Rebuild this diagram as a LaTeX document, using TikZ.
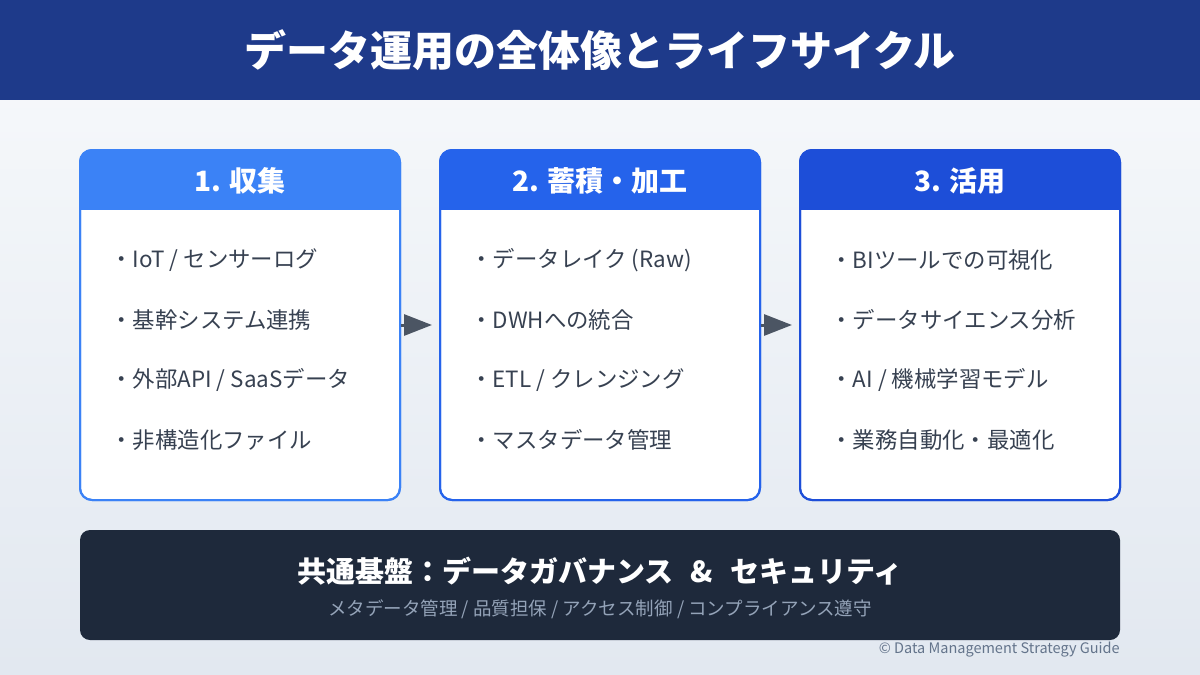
\documentclass[tikz,border=0pt]{standalone}
\usepackage{fontspec}
\setmainfont{Noto Sans CJK JP}
\usetikzlibrary{arrows.meta}
\definecolor{hdr}{HTML}{1E3A8A}
\definecolor{bgtop}{HTML}{F8FAFC}
\definecolor{bgbot}{HTML}{E2E8F0}
\definecolor{cA}{HTML}{3B82F6}
\definecolor{cB}{HTML}{2563EB}
\definecolor{cC}{HTML}{1D4ED8}
\definecolor{itemc}{HTML}{374151}
\definecolor{arrc}{HTML}{4B5563}
\definecolor{barc}{HTML}{1E293B}
\definecolor{subc}{HTML}{94A3B8}
\definecolor{footc}{HTML}{64748B}
\tikzset{
  stagebox/.style={draw=#1, fill=white, line width=1pt, rounded corners=6pt,
    minimum width=160pt, minimum height=175pt, inner sep=0pt},
  stagetitle/.style={text=white, font=\fontsize{14}{16}\selectfont\bfseries, inner sep=0pt},
  item/.style={anchor=west, text=itemc, font=\fontsize{11.2}{13}\selectfont, inner sep=0pt},
  flow/.style={draw=arrc, line width=1.5pt, -{Triangle[length=14pt,width=10.5pt]}, shorten >=3.5pt}
}
\begin{document}
\begin{tikzpicture}[x=0.5pt,y=-0.5pt]
\useasboundingbox (0,0) rectangle (1200,675);
\shade[top color=bgtop, bottom color=bgbot] (0,0) rectangle (1200,675);
\fill[hdr] (0,0) rectangle (1200,100);
\node[text=white, font=\fontsize{21}{24}\selectfont\bfseries, inner sep=0pt] (title) at (600,50) {データ運用の全体像とライフサイクル};

% boxes
\node[stagebox=cA] (b1) at (240,325) {};
\node[stagebox=cB] (b2) at (600,325) {};
\node[stagebox=cC] (b3) at (960,325) {};

\begin{scope}
\clip[rounded corners=6pt] (80,150) rectangle (400,500);
\fill[cA] (80,150) rectangle (400,210);
\end{scope}
\begin{scope}
\clip[rounded corners=6pt] (440,150) rectangle (760,500);
\fill[cB] (440,150) rectangle (760,210);
\end{scope}
\begin{scope}
\clip[rounded corners=6pt] (800,150) rectangle (1120,500);
\fill[cC] (800,150) rectangle (1120,210);
\end{scope}
\draw[cA, line width=1pt, rounded corners=6pt] (80,150) rectangle (400,500);
\draw[cB, line width=1pt, rounded corners=6pt] (440,150) rectangle (760,500);
\draw[cC, line width=1pt, rounded corners=6pt] (800,150) rectangle (1120,500);

\node[stagetitle] (t1) at (240,181) {1. 収集};
\node[stagetitle] (t2) at (600,181) {2. 蓄積・加工};
\node[stagetitle] (t3) at (960,181) {3. 活用};

\node[item] (i11) at (110,260) {・IoT / センサーログ};
\node[item] (i12) at (110,320) {・基幹システム連携};
\node[item] (i13) at (110,380) {・外部API / SaaSデータ};
\node[item] (i14) at (110,440) {・非構造化ファイル};

\node[item] (i21) at (470,260) {・データレイク (Raw)};
\node[item] (i22) at (470,320) {・DWHへの統合};
\node[item] (i23) at (470,380) {・ETL / クレンジング};
\node[item] (i24) at (470,440) {・マスタデータ管理};

\node[item] (i31) at (830,260) {・BIツールでの可視化};
\node[item] (i32) at (830,320) {・データサイエンス分析};
\node[item] (i33) at (830,380) {・AI / 機械学習モデル};
\node[item] (i34) at (830,440) {・業務自動化・最適化};

\draw[flow] (b1.east) -- (b2.west);
\draw[flow] (b2.east) -- (b3.west);

% bottom bar
\node[fill=barc, rounded corners=5pt, minimum width=520pt, minimum height=55pt, inner sep=0pt] (bar) at (600,585) {};
\node[text=white, font=\fontsize{14.5}{17}\selectfont\bfseries, inner sep=0pt] (bart) at (600,571) {共通基盤：データガバナンス\hspace{0.6em}\&\hspace{0.6em}セキュリティ};
\node[text=subc, font=\fontsize{9.25}{11}\selectfont, inner sep=0pt] (bars) at (600,609) {メタデータ管理 / 品質担保 / アクセス制御 / コンプライアンス遵守};
\node[text=footc, font=\fontsize{7.25}{9}\selectfont, anchor=east, inner sep=0pt] (foot) at (1120,650) {© Data Management Strategy Guide};
\end{tikzpicture}
\end{document}
